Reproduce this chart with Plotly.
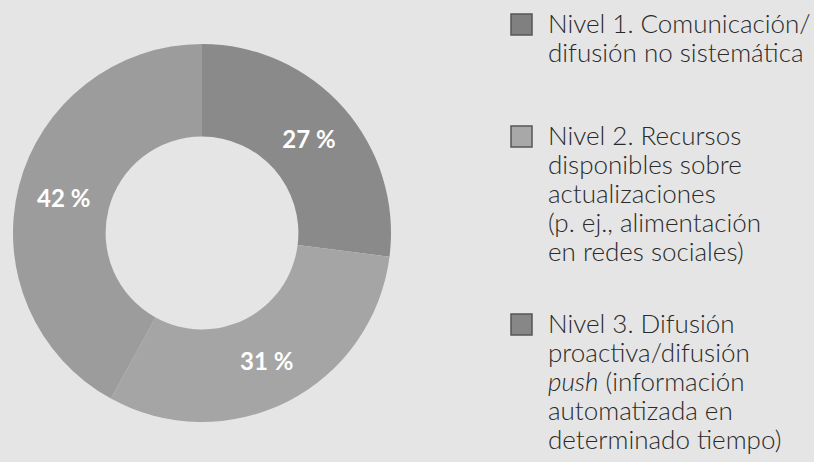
import plotly.graph_objects as go

# data
levels = ["Nivel 1", "Nivel 2", "Nivel 3"]
shares = [27, 31, 42]
slice_colors = ["#8a8a8a", "#a5a5a5", "#9c9c9c"]
swatch_colors = ["#808080", "#a8a8a8", "#878787"]
legend_lines = [
    ["Nivel 1. Comunicación/", "difusión no sistemática"],
    ["Nivel 2. Recursos", "disponibles sobre", "actualizaciones",
     "(p. ej., alimentación", "en redes sociales)"],
    ["Nivel 3. Difusión", "proactiva/difusión", "<i>push</i> (información",
     "automatizada en", "determinado tiempo)"],
]

W, H = 814, 462
BG = "#e5e5e5"
FONT = "Lato"

fig = go.Figure()

fig.add_trace(go.Pie(
    labels=levels,
    values=shares,
    hole=0.51,
    sort=False,
    direction="clockwise",
    rotation=0,
    marker=dict(colors=slice_colors, line=dict(width=0)),
    texttemplate="%{value} %",
    textposition="inside",
    insidetextorientation="horizontal",
    insidetextfont=dict(family=FONT, size=24, color="white", weight="bold"),
    showlegend=False,
    hoverinfo="label+percent",
    domain=dict(x=[13 / W, 391 / W], y=[1 - 422 / H, 1 - 44 / H]),
))

# hand-built legend: swatch + one annotation per text line
first_baselines = [33, 145, 333]
pitch = 29
fsize = 26
for i, lines in enumerate(legend_lines):
    top = first_baselines[i] - 19
    fig.add_shape(
        type="rect", xref="paper", yref="paper",
        x0=511 / W, x1=532 / W, y0=1 - top / H, y1=1 - (top + 21) / H,
        fillcolor=swatch_colors[i], line=dict(color="#555555", width=1.5),
    )
    for j, line in enumerate(lines):
        base = first_baselines[i] + j * pitch
        fig.add_annotation(
            x=546 / W, y=1 - (base - 0.387 * fsize) / H,
            xref="paper", yref="paper",
            xanchor="left", yanchor="middle",
            text=line, showarrow=False,
            font=dict(family=FONT, size=fsize, color="#2a2a2a", weight=300),
        )

fig.update_layout(
    width=W, height=H,
    paper_bgcolor=BG, plot_bgcolor=BG,
    margin=dict(l=0, r=0, t=0, b=0),
    font=dict(family=FONT),
)

fig.write_html(
    "out.html",
    config={"displayModeBar": False},
    post_script="document.body.style.margin='0';"
                "document.body.style.background='#e5e5e5';",
)
